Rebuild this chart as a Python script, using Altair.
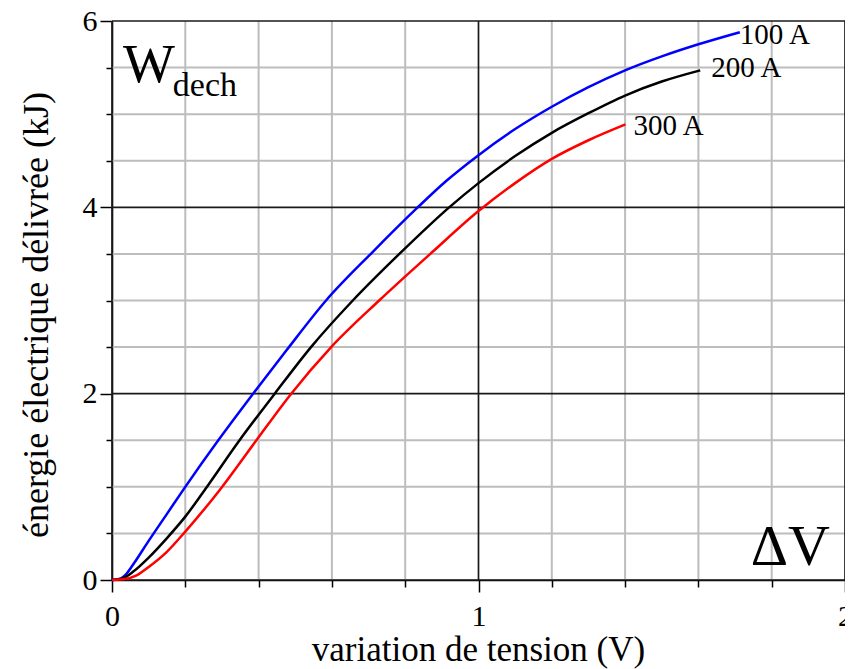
import altair as alt
import pandas as pd

# ---- data ----
v_100 = [0, 0.02, 0.04, 0.06, 0.10, 0.15, 0.20, 0.29, 0.385, 0.475, 0.584, 0.711, 0.829, 0.911, 1.0, 1.1, 1.2, 1.3, 1.4, 1.5, 1.6, 1.713]
e_100 = [0, 0.01, 0.07, 0.18, 0.42, 0.71, 1.0, 1.5, 2.0, 2.46, 3.0, 3.52, 3.98, 4.28, 4.56, 4.84, 5.08, 5.29, 5.47, 5.62, 5.75, 5.88]

v_200 = [0, 0.03, 0.058, 0.10, 0.15, 0.20, 0.253, 0.348, 0.444, 0.543, 0.657, 0.784, 0.92, 1.0, 1.1, 1.2, 1.3, 1.4, 1.5, 1.605]
e_200 = [0, 0.02, 0.09, 0.24, 0.45, 0.68, 0.967, 1.5, 2.0, 2.5, 3.0, 3.5, 4.0, 4.26, 4.55, 4.80, 5.01, 5.20, 5.35, 5.47]

v_300 = [0, 0.035, 0.067, 0.10, 0.149, 0.20, 0.294, 0.394, 0.489, 0.598, 0.729, 0.874, 1.0, 1.1, 1.2, 1.3, 1.401]
e_300 = [0, 0.01, 0.05, 0.14, 0.30, 0.52, 0.967, 1.5, 2.0, 2.5, 3.0, 3.52, 3.96, 4.26, 4.52, 4.72, 4.89]

series_names = ["100 A", "200 A", "300 A"]
series_colors = ["#0000ff", "#000000", "#ff0000"]

label_v = [1.713, 1.635, 1.423]
label_e = [5.75, 5.40, 4.78]

x_ticks = [0, 0.2, 0.4, 0.6, 0.8, 1, 1.2, 1.4, 1.6, 1.8, 2]
y_ticks = [0, 0.5, 1, 1.5, 2, 2.5, 3, 3.5, 4, 4.5, 5, 5.5, 6]
x_minor = [0.2, 0.4, 0.6, 0.8, 1.2, 1.4, 1.6, 1.8]
x_major = [0, 1, 2]
y_minor = [0.5, 1, 1.5, 2.5, 3, 3.5, 4.5, 5, 5.5]
y_major = [0, 2, 4, 6]

x_title = "variation de tension (V)"
y_title = "énergie électrique délivrée (kJ)"

FONT = "Liberation Serif"
W, H = 733, 559

rows = []
for name, vs, es in [("100 A", v_100, e_100), ("200 A", v_200, e_200), ("300 A", v_300, e_300)]:
    for i, (v, e) in enumerate(zip(vs, es)):
        rows.append({"V": v, "E": e, "serie": name, "i": i})
curves = pd.DataFrame(rows)

xs = alt.Scale(domain=[0, 2], nice=False, zero=False)
ys = alt.Scale(domain=[0, 6], nice=False, zero=False)

x_axis = alt.Axis(
    values=x_ticks, labelExpr="datum.value % 1 === 0 ? format(datum.value, 'd') : ''",
    title=None,
    labelFont=FONT, labelFontSize=30, labelColor="black", labelPadding=9, labelFlush=False, labelOverlap=False,
    tickColor="black", tickWidth=1.5,
    tickSize={"condition": {"test": "datum.value % 1 === 0", "value": 12}, "value": 7},
    domainColor="black", domainWidth=1.6, grid=False)

y_axis = alt.Axis(
    values=y_ticks, labelExpr="datum.value % 2 === 0 ? format(datum.value, 'd') : ''",
    title=None,
    labelFont=FONT, labelFontSize=30, labelColor="black", labelPadding=3, labelFlush=False, labelOverlap=False,
    tickColor="black", tickWidth=1.5,
    tickSize={"condition": {"test": "datum.value % 2 === 0", "value": 12}, "value": 6},
    domainColor="black", domainWidth=1.6, grid=False)


def X(field):
    return alt.X(field, scale=xs, axis=x_axis)


def Y(field):
    return alt.Y(field, scale=ys, axis=y_axis)


minor_x = alt.Chart(pd.DataFrame({"v": x_minor})).mark_rule(color="#bdbdbd", strokeWidth=2).encode(x=X("v:Q"))
minor_y = alt.Chart(pd.DataFrame({"e": y_minor})).mark_rule(color="#bdbdbd", strokeWidth=2).encode(y=Y("e:Q"))
major_x = alt.Chart(pd.DataFrame({"v": x_major})).mark_rule(color="#1a1a1a", strokeWidth=1.7).encode(x=X("v:Q"))
major_y = alt.Chart(pd.DataFrame({"e": y_major})).mark_rule(color="#1a1a1a", strokeWidth=1.7).encode(y=Y("e:Q"))

lines = alt.Chart(curves).mark_line(strokeWidth=2.5, interpolate="monotone").encode(
    x=X("V:Q"),
    y=Y("E:Q"),
    color=alt.Color("serie:N", scale=alt.Scale(domain=series_names, range=series_colors), legend=None),
    order="i:Q",
    detail="serie:N",
)

labels = alt.Chart(pd.DataFrame({"t": series_names, "v": label_v, "e": label_e})).mark_text(
    font=FONT, fontSize=29, align="left", baseline="alphabetic", color="black").encode(
    x=X("v:Q"), y=Y("e:Q"), text="t:N")

w_main = alt.Chart(pd.DataFrame({"t": ["W"], "v": [0.03], "e": [5.35]})).mark_text(
    font=FONT, fontSize=55, align="left", baseline="alphabetic", color="black").encode(
    x=X("v:Q"), y=Y("e:Q"), text="t:N")
w_sub = alt.Chart(pd.DataFrame({"t": ["dech"], "v": [0.166], "e": [5.20]})).mark_text(
    font=FONT, fontSize=34, align="left", baseline="alphabetic", color="black").encode(
    x=X("v:Q"), y=Y("e:Q"), text="t:N")
dv = alt.Chart(pd.DataFrame({"t": ["ΔV"], "v": [1.959], "e": [0.16]})).mark_text(
    font=FONT, fontSize=58, align="right", baseline="alphabetic", color="black").encode(
    x=X("v:Q"), y=Y("e:Q"), text="t:N")

# axis titles as text marks (placed in the margins around the plot)
x_title_mark = alt.Chart(pd.DataFrame({"t": [x_title]})).mark_text(
    font=FONT, fontSize=35, align="center", baseline="alphabetic", color="black").encode(
    x=alt.value(W / 2), y=alt.value(H + 81), text="t:N")
y_title_mark = alt.Chart(pd.DataFrame({"t": [y_title]})).mark_text(
    font=FONT, fontSize=36, align="center", baseline="alphabetic", color="black", angle=270).encode(
    x=alt.value(-64), y=alt.value(294), text="t:N")

chart = alt.layer(minor_x, minor_y, major_x, major_y, lines, labels, w_main, w_sub, dv,
                  x_title_mark, y_title_mark).properties(
    width=W, height=H,
    padding={"left": 104, "top": 13, "right": 0, "bottom": 95},
    autosize=alt.AutoSizeParams(type="none"),
).configure(background="white", font=FONT).configure_view(stroke=None).configure_axis(
    labelFont=FONT, titleFont=FONT)

chart.save("out.html", embed_options={"renderer": "svg", "actions": False})
